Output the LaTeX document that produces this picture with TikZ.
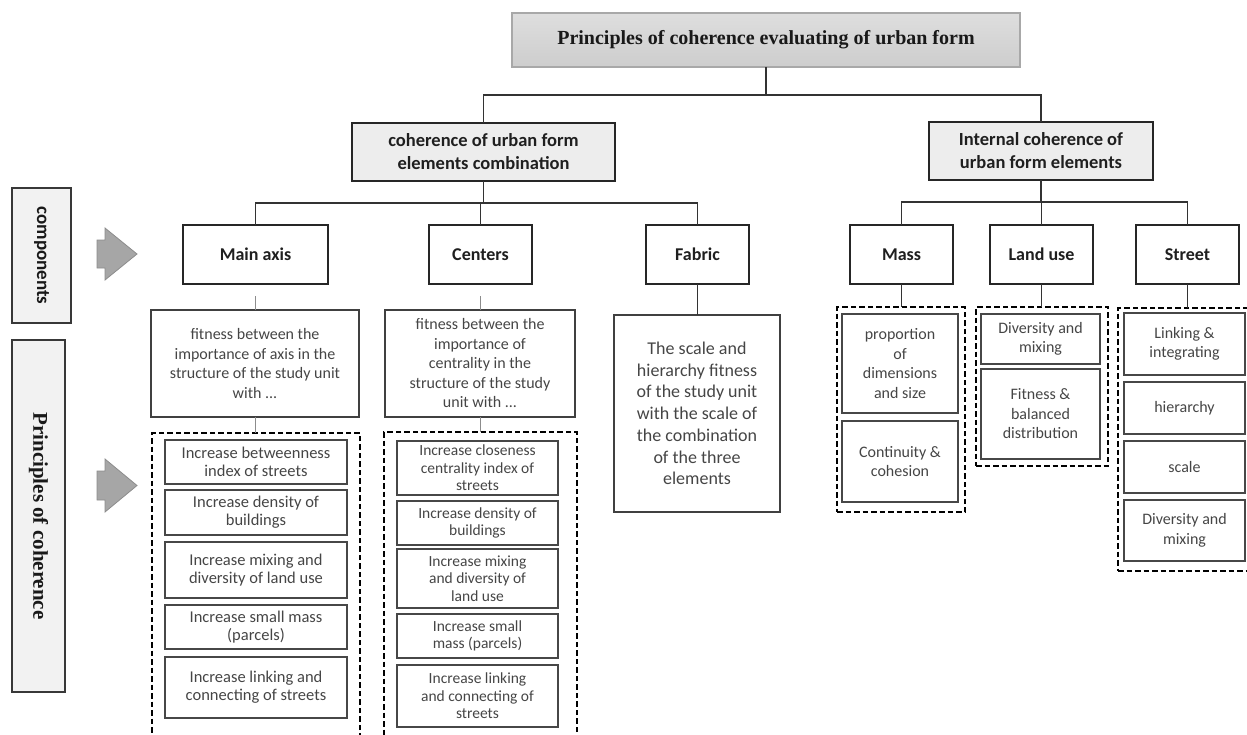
\documentclass[tikz,border=0pt]{standalone}
\usepackage{fontspec}
\setmainfont{Carlito}
\newfontfamily\timesf{Liberation Serif}
\definecolor{txtgray}{HTML}{454545}
\definecolor{midfill}{HTML}{EDEDED}
\definecolor{leftfill}{HTML}{F2F2F2}
\definecolor{arrowfill}{HTML}{A6A6A6}
\definecolor{arrowdraw}{HTML}{8C8C8C}
\definecolor{titletop}{HTML}{DEDEDE}
\definecolor{titlebot}{HTML}{CDCDCD}
\definecolor{titleborder}{HTML}{A8A8A8}
\begin{document}
\begin{tikzpicture}[x=1pt,y=-1pt,
  box/.style={rectangle, inner sep=0pt, outer sep=0pt, align=center},
  titlebox/.style={box, draw=titleborder, line width=1.2pt, top color=titletop, bottom color=titlebot,
     font=\timesf\bfseries\fontsize{20}{24}\selectfont, text=black!90},
  mid/.style={box, draw=black!85, line width=2.5pt, fill=midfill, minimum height=58pt,
     font=\bfseries\fontsize{18.5}{23}\selectfont, text=black!88},
  comp/.style={box, draw=black!85, line width=2.5pt, fill=white, minimum height=59pt,
     font=\bfseries\fontsize{18}{20}\selectfont, text=black!88},
  fitbox/.style={box, draw=black!75, line width=1.5pt, text=txtgray,
     font=\fontsize{16}{19.5}\selectfont},
  inbox/.style={box, draw=black!72, line width=2.2pt, text=txtgray,
     font=\fontsize{16.5}{18.3}\selectfont},
  inboxc/.style={inbox, font=\fontsize{15.5}{17.5}\selectfont},
  inboxr/.style={inbox, font=\fontsize{16}{19.5}\selectfont},
  dashbox/.style={rectangle, inner sep=0pt, outer sep=0pt, draw=black, line width=2.5pt, dash pattern=on 5.5pt off 3pt},
  leftbox/.style={box, draw=black!78, line width=2pt, fill=leftfill, text=black!90},
  conn/.style={draw=black!80, line width=1.5pt},
  thinconn/.style={draw=black!45, line width=1pt},
  blockarrow/.style={fill=arrowfill, draw=arrowdraw, line width=0.8pt}
]
\path[use as bounding box] (0,0) rectangle (1247,734);
\clip (0,0) rectangle (1247,734);

% top level
\node[titlebox, minimum width=508pt, minimum height=54pt] (title) at (766,40) {Principles of coherence evaluating of urban form};
\node[mid, minimum width=263pt] (coh) at (483.5,152) {coherence of urban form\\elements combination};
\node[mid, minimum width=224pt] (int) at (1041,151) {Internal coherence of\\urban form elements};
\coordinate (tbus) at (766,95);
\draw[conn] (title.south) -- (tbus) -| (coh.north);
\draw[conn] (tbus) -| (int.north);

% components
\node[comp, minimum width=145pt] (ma) at (255.5,254.5) {Main axis};
\node[comp, minimum width=103pt] (ce) at (480.5,254.5) {Centers};
\node[comp, minimum width=103pt] (fa) at (697.5,254.5) {Fabric};
\node[comp, minimum width=103pt] (ms) at (901.5,254.5) {Mass};
\node[comp, minimum width=103pt] (lu) at (1041.5,254.5) {Land use};
\node[comp, minimum width=103pt] (st) at (1187.5,254.5) {Street};
\coordinate (cbus) at (483.5,203);
\draw[conn] (coh.south) -- (cbus) -| (ma.north);
\draw[conn] (cbus) -| (ce.north);
\draw[conn] (cbus) -| (fa.north);
\coordinate (ibus) at (1041,202);
\draw[conn] (int.south) -- (ibus) -| (ms.north);
\draw[conn] (ibus) -| (lu.north);
\draw[conn] (ibus) -| (st.north);

% fitness boxes
\node[fitbox, minimum width=208pt, minimum height=107pt] (mafit) at (255,363.5)
  {fitness between the\\importance of axis in the\\structure of the study unit\\with ...};
\node[fitbox, minimum width=190pt, minimum height=107pt] (cefit) at (480,363.5)
  {fitness between the\\importance of\\centrality in the\\structure of the study\\unit with ...};
\node[fitbox, line width=1.8pt, font=\fontsize{18}{21.7}\selectfont, minimum width=166pt, minimum height=197pt] (fafit) at (697,413.5)
  {The scale and\\hierarchy fitness\\of the study unit\\with the scale of\\the combination\\of the three\\elements};

% dashed groups
\node[dashbox, minimum width=208pt, minimum height=327pt] (madash) at (256,596.5) {};
\node[dashbox, minimum width=193pt, minimum height=328pt] (cedash) at (480.5,596) {};
\node[dashbox, minimum width=128pt, minimum height=205pt] (msdash) at (901,409.5) {};
\node[dashbox, minimum width=132pt, minimum height=159pt] (ludash) at (1042,386.5) {};
\node[dashbox, minimum width=142pt, minimum height=263pt] (stdash) at (1189,439.5) {};

% connectors below components
\draw[thinconn] ([yshift=-12pt]ma.south) -- (ma.south |- mafit.north);
\draw[thinconn] (mafit.south) -- (mafit.south |- madash.north);
\draw[thinconn] ([yshift=-12pt]ce.south) -- (ce.south |- cefit.north);
\draw[thinconn] (cefit.south) -- (cefit.south |- cedash.north);
\draw[conn] (fa.south) -- (fa.south |- fafit.north);
\draw[conn] (ms.south) -- (ms.south |- msdash.north);
\draw[conn] (lu.south) -- (lu.south |- ludash.north);
\draw[conn] (st.south) -- (st.south |- stdash.north);

% main axis principles
\node[inbox, minimum width=182pt, minimum height=44pt] (ma1) at (256,462) {Increase betweenness\\index of streets};
\node[inbox, minimum width=182pt, minimum height=45pt] (ma2) at (256,512.5) {Increase density of\\buildings};
\node[inbox, minimum width=182pt, minimum height=56pt] (ma3) at (256,570) {Increase mixing and\\diversity of land use};
\node[inbox, minimum width=182pt, minimum height=44pt] (ma4) at (256,627) {Increase small mass\\(parcels)};
\node[inbox, minimum width=182pt, minimum height=61pt] (ma5) at (256,687.5) {Increase linking and\\connecting of streets};

% centers principles
\node[inboxc, minimum width=161pt, minimum height=54pt] (ce1) at (477.5,468) {Increase closeness\\centrality index of\\streets};
\node[inboxc, minimum width=161pt, minimum height=44pt] (ce2) at (477.5,523) {Increase density of\\buildings};
\node[inboxc, minimum width=161pt, minimum height=59pt] (ce3) at (477.5,578.5) {Increase mixing\\and diversity of\\land use};
\node[inboxc, minimum width=161pt, minimum height=44pt] (ce4) at (477.5,636) {Increase small\\mass (parcels)};
\node[inboxc, minimum width=161pt, minimum height=62pt] (ce5) at (477.5,696) {Increase linking\\and connecting of\\streets};

% mass
\node[inboxr, minimum width=116pt, minimum height=99pt] (ms1) at (900,363.5) {proportion\\of\\dimensions\\and size};
\node[inboxr, minimum width=116pt, minimum height=81pt] (ms2) at (900,461.5) {Continuity \&\\cohesion};
% land use
\node[inboxr, minimum width=119pt, minimum height=50pt] (lu1) at (1040.5,339) {Diversity and\\mixing};
\node[inboxr, minimum width=119pt, minimum height=90pt] (lu2) at (1040.5,414) {Fitness \&\\balanced\\distribution};
% street
\node[inboxr, minimum width=121pt, minimum height=62pt] (st1) at (1184.5,344) {Linking \&\\integrating};
\node[inboxr, minimum width=121pt, minimum height=52pt] (st2) at (1184.5,408) {hierarchy};
\node[inboxr, minimum width=121pt, minimum height=52pt] (st3) at (1184.5,467) {scale};
\node[inboxr, minimum width=121pt, minimum height=61pt] (st4) at (1184.5,530.5) {Diversity and\\mixing};

% left labels
\node[leftbox, rotate=-90, minimum width=135pt, minimum height=59pt, font=\bfseries\fontsize{19}{22}\selectfont] (complabel) at (41.5,255.5) {components};
\node[leftbox, rotate=-90, minimum width=352pt, minimum height=53pt, font=\timesf\bfseries\fontsize{21}{24}\selectfont] (princlabel) at (38.5,516) {Principles of coherence};

% block arrows
\path[blockarrow] (97,240) -- (105,240) -- (105,228) -- (137,254) -- (105,280) -- (105,268) -- (97,268) -- cycle;
\path[blockarrow] (97,471) -- (105,471) -- (105,459) -- (137,485.5) -- (105,512) -- (105,500) -- (97,500) -- cycle;
\end{tikzpicture}
\end{document}
